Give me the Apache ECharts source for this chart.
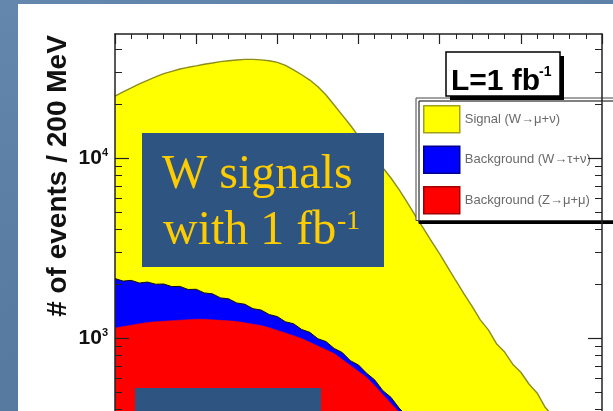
<!DOCTYPE html>
<html><head><meta charset="utf-8">
<script src="https://cdn.jsdelivr.net/npm/echarts@6/dist/echarts.min.js"></script>
<style>
html,body{margin:0;padding:0;width:613px;height:411px;overflow:hidden;
background:linear-gradient(165deg,#6487ae 0%,#5a7da4 45%,#52759c 100%);}
#c{width:613px;height:411px;}
</style></head><body><div id="c"></div>
<script>
// x positions (GeV) of the sampled histogram contents
const massGeV = [0,2,4,6,8,10,12,14,16,18,20,22,24,26,28,30,32,34,36,38,40,42,44,46,48,50,52,54,56,58,60,62,64,66,68,70,72,74,76,78,80,82,84,86,88,90,92,94,96,98,100,102,104,106,108,110,112,114,116,118,120];
// stacked totals (# of events / 200 MeV)
const signalTotal = [22100,23300,24500,25800,27000,28200,29400,30300,31200,31900,32500,33200,33700,34300,34700,35000,35300,35300,35100,34700,34000,32700,30900,29000,27100,24900,22400,19700,17300,15200,13200,11500,10100,8820,7740,6680,5660,4790,4060,3440,2930,2470,2080,1760,1500,1260,1110,930,835,715,645,555,495,412,366,310,276,233,206,179,157];
const bkgWtauTotal = [2140,2070,2090,2020,2045,1990,1995,1930,1935,1860,1865,1780,1760,1670,1650,1565,1540,1455,1430,1350,1315,1230,1200,1115,1075,990,955,875,830,748,708,637,585,510,468,408,367,313,280,239,209,177,155,131,113,93,79,65,56,47,40,34,29,25,21,18,15,13,11,9.5,8];
const bkgZmumu = [1137,1157,1178,1199,1221,1232,1240,1248,1256,1264,1272,1270,1262,1254,1246,1236,1214,1193,1172,1141,1102,1066,1030,992,946,903,861,819,759,703,651,604,542,484,433,387,339,291,252,218,185,158,135,115,98,82,69,58,49,41,35,29,25,21,17,15,12,10,8.5,7,6];
const seriesNames = ['Signal (W\u2192\u03bc+\u03bd)','Background (W\u2192\u03c4+\u03bd)','Background (Z\u2192\u03bc+\u03bc)'];
const majorYTicks = [1000,10000];
const minorYTicks = [400,500,600,700,800,900,2000,3000,4000,5000,6000,7000,8000,9000,20000,30000,40000];
const labelYTicks = [1000,10000];
const yTitle = '# of events / 200 MeV';

const fills = ['#ffff00','#0000ff','#ff0000'];
const edges = ['#8c8c1e','#111111','#ff0000'];
const boxEdges = ['#a0a020','#00008a','#a00000'];
const SANS = '"Liberation Sans", Arial, "DejaVu Sans", sans-serif';
const SERIF = '"Liberation Serif", "Times New Roman", serif';
const frame = {color:'#222', width:1.5};

const yBase = {type:'log', logBase:10, min:393, max:48850, z:10, splitLine:{show:false}, minorSplitLine:{show:false}};
const chart = echarts.init(document.getElementById('c'), null, {renderer:'canvas'});
const option = {
  animation:false,
  backgroundColor:'transparent',
  grid:{left:115, right:11, top:34, bottom:0, containLabel:false},
  xAxis:[
    {type:'value', min:0, max:120, show:false},
    {type:'value', min:0, max:120, interval:20, position:'top', z:10,
     axisLine:{show:true, lineStyle:frame},
     axisTick:{show:true, inside:true, length:10, lineStyle:{color:'#222', width:1.2}},
     minorTick:{show:true, splitNumber:5, length:5, lineStyle:{color:'#222', width:1}},
     axisLabel:{show:false}, splitLine:{show:false}}
  ],
  yAxis:[
    Object.assign({}, yBase, {position:'left',
      axisLine:{show:true, lineStyle:frame},
      axisTick:{show:true, inside:true, length:14, customValues:majorYTicks, lineStyle:{color:'#222', width:1.2}},
      axisLabel:{show:true, customValues:labelYTicks, margin:7,
        formatter:function(v){return '{b|10}{s|'+Math.round(Math.log10(v))+'}';},
        rich:{b:{fontSize:21, fontWeight:'bold', fontFamily:SANS, color:'#111'},
              s:{fontSize:11, fontWeight:'bold', fontFamily:SANS, color:'#111', verticalAlign:'top'}}}}),
    Object.assign({}, yBase, {position:'left',
      axisLine:{show:false},
      axisTick:{show:true, inside:true, length:7, customValues:minorYTicks, lineStyle:{color:'#222', width:1}},
      axisLabel:{show:false}}),
    Object.assign({}, yBase, {position:'right',
      axisLine:{show:true, lineStyle:frame},
      axisTick:{show:true, inside:true, length:14, customValues:majorYTicks, lineStyle:{color:'#222', width:1.2}},
      axisLabel:{show:false}}),
    Object.assign({}, yBase, {position:'right',
      axisLine:{show:false},
      axisTick:{show:true, inside:true, length:7, customValues:minorYTicks, lineStyle:{color:'#222', width:1}},
      axisLabel:{show:false}})
  ],
  legend:{
    orient:'vertical', left:416, top:98, padding:[7,80,6,7],
    itemWidth:36, itemHeight:27, itemGap:12,
    backgroundColor:'#fff', borderColor:'#444', borderWidth:1,
    shadowColor:'#000', shadowOffsetX:3, shadowOffsetY:3, shadowBlur:0.01,
    selectedMode:false,
    textStyle:{fontSize:13, color:'#6a6a6a', fontFamily:SANS},
    data: seriesNames.map(function(n,i){return {name:n, icon:'rect', itemStyle:{color:fills[i], borderColor:boxEdges[i], borderWidth:1.5}};})
  },
  series:[signalTotal, bkgWtauTotal, bkgZmumu].map(function(arr,i){
    return {name:seriesNames[i], type:'line', xAxisIndex:0, yAxisIndex:0, silent:true,
      showSymbol:false, symbol:'none', color:fills[i],
      data: massGeV.map(function(x,k){return [x, arr[k]];}),
      lineStyle:{color:edges[i], width: i===2 ? 0.5 : (i===0 ? 1.4 : 1)},
      areaStyle:{color:fills[i], opacity:1}};
  }),
  graphic:[
    {type:'rect', z:-100, shape:{x:18, y:4, width:600, height:420}, style:{fill:'#ffffff'}},
    {type:'text', z:20, x:58, y:176, rotation:Math.PI/2,
     style:{text:yTitle, fontSize:28, fontWeight:'bold', fontFamily:SANS, fill:'#111', align:'center', verticalAlign:'middle'}},
    // L = 1 fb-1 box
    {type:'rect', z:50, shape:{x:450, y:56, width:114, height:44}, style:{fill:'#000'}},
    {type:'rect', z:51, shape:{x:446, y:52, width:114, height:44}, style:{fill:'#fff', stroke:'#000', lineWidth:1.5}},
    {type:'text', z:52, x:451, y:82, style:{text:'L=1 fb', fontSize:30, fontWeight:'bold', fontFamily:SANS, fill:'#000', verticalAlign:'middle'}},
    {type:'text', z:52, x:539, y:72, style:{text:'-1', fontSize:14, fontWeight:'bold', fontFamily:SANS, fill:'#000', verticalAlign:'middle'}},
    // slide text boxes
    {type:'rect', z:100, shape:{x:142, y:133, width:242, height:134}, style:{fill:'#2e5581'}},
    {type:'text', z:101, x:162, y:175, style:{text:'W signals', fontSize:48, fontFamily:SERIF, fill:'#ffcc00', verticalAlign:'middle'}},
    {type:'text', z:101, x:163, y:231, style:{text:'with 1 fb', fontSize:48, fontFamily:SERIF, fill:'#ffcc00', verticalAlign:'middle'}},
    {type:'text', z:101, x:337, y:222, style:{text:'-1', fontSize:28, fontFamily:SERIF, fill:'#ffcc00', verticalAlign:'middle'}},
    {type:'rect', z:100, shape:{x:135, y:388, width:186, height:40}, style:{fill:'#2e5581'}}
  ]
};
chart.setOption(option);
</script>
</body></html>
